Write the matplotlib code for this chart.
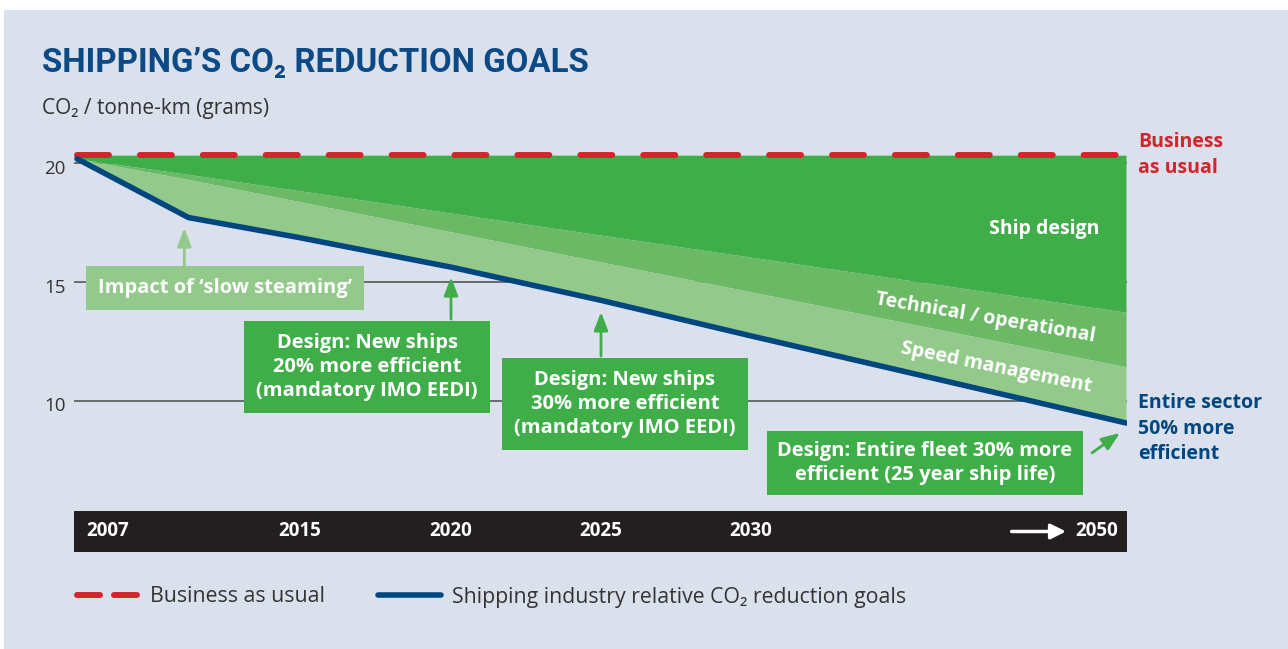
import numpy as np
import matplotlib
matplotlib.use("Agg")
import matplotlib.pyplot as plt
from matplotlib.patches import Rectangle
from matplotlib.lines import Line2D
from matplotlib.transforms import ScaledTranslation

plt.rcParams['font.family'] = ['Open Sans', 'DejaVu Sans']
plt.rcParams['lines.scale_dashes'] = False

# --- data (grams CO2 per tonne-km) ---
years = [2007, 2011, 2015, 2020, 2025, 2030, 2050]
business_as_usual = [20.35, 20.35, 20.35, 20.35, 20.35, 20.35, 20.35]
after_ship_design = [20.2, 19.54, 18.85, 17.91, 16.98, 16.05, 13.73]
after_technical = [20.2, 19.33, 18.39, 17.12, 15.85, 14.59, 11.43]
reduction_goal = [20.2, 17.72, 16.87, 15.63, 14.23, 12.73, 9.06]
y_ticks = [10, 15, 20]
timeline_years = [2007, 2015, 2020, 2025, 2030, 2050]
timeline_labels = ['2007', '2015', '2020', '2025', '2030', '2050']

# colours
bg = '#dae0ec'
red = '#d4252d'
navy = '#00467f'
dark_green = '#3fae49'
mid_green = '#6cb965'
light_green = '#93c98a'
grey_text = '#333333'

# the time axis is not linear: 2030 -> 2050 is squeezed
spacing = [0, 223, 374, 524, 674, 1049]
knot_years = [1900] + timeline_years + [2200]
knot_pos = [-2983] + spacing + [3862]


def fwd(x):
    return np.interp(x, knot_years, knot_pos)


def inv(p):
    return np.interp(p, knot_pos, knot_years)


W, H = 1288, 649


def fx(px):
    return px / W


def fy(py):
    return 1 - py / H


fig = plt.figure(figsize=(W / 100, H / 100), dpi=100, facecolor='white')
fig.patches.append(Rectangle((fx(4), 0), 1 - fx(4), fy(10), transform=fig.transFigure,
                             facecolor=bg, edgecolor='none', zorder=-10))

ax = fig.add_axes([fx(74), fy(510), fx(1127) - fx(74), (510 - 140) / H])
ax.set_facecolor('none')
ax.set_xscale('function', functions=(fwd, inv))
ax.set_xlim(inv(-3), inv(1050))
ax.set_ylim(5.39, 20.99)
for s in ax.spines.values():
    s.set_visible(False)
ax.set_xticks([])
ax.set_yticks(y_ticks)
ax.tick_params(axis='y', length=0, pad=6, labelsize=13.5, labelcolor=grey_text)
# labels sit a touch below their grid lines
for lab in ax.get_yticklabels():
    lab.set_transform(lab.get_transform() + ScaledTranslation(0, -2.5 / 72, fig.dpi_scale_trans))
ax.grid(axis='y', color='#4a4a4a', lw=1.1)
ax.set_axisbelow(True)

ax.fill_between(years, after_ship_design, business_as_usual, color=dark_green, lw=0, zorder=2)
ax.fill_between(years, after_technical, after_ship_design, color=mid_green, lw=0, zorder=2)
ax.fill_between(years, reduction_goal, after_technical, color=light_green, lw=0, zorder=2)
ax.plot(years, business_as_usual, color=red, lw=4.3, dashes=(23, 22.3),
        dash_capstyle='round', zorder=4)
ax.plot(years, reduction_goal, color=navy, lw=4, solid_capstyle='round',
        solid_joinstyle='round', zorder=4)

# band labels
band_kw = dict(color='white', weight='bold', fontsize=14, zorder=5)
ax.text(2048.56, 17.23, 'Ship design', ha='right', va='center', **band_kw)
ax.text(2042.5, 13.49, 'Technical / operational', ha='center', va='center',
        rotation=-9.7, rotation_mode='anchor', **band_kw)
ax.text(2043.1, 11.38, 'Speed management', ha='center', va='center',
        rotation=-11.5, rotation_mode='anchor', **band_kw)

# end labels
ax.annotate('Business\nas usual', xy=(years[-1], business_as_usual[-1]),
            xytext=(9, 0), textcoords='offset points', ha='left', va='center',
            color=red, weight='bold', fontsize=14, linespacing=1.42,
            annotation_clip=False)
ax.annotate('Entire sector\n50% more\nefficient', xy=(years[-1], reduction_goal[-1]),
            xytext=(9, -4), textcoords='offset points', ha='left', va='center',
            color=navy, weight='bold', fontsize=14, linespacing=1.38,
            annotation_clip=False)

# callout boxes and arrows
box_kw = dict(color='white', weight='bold', fontsize=14.5, ha='center', va='center',
              linespacing=1.25, zorder=6)
ax.text(2012.3, 14.75, 'Impact of ‘slow steaming’',
        bbox=dict(boxstyle='square,pad=0.6', fc=light_green, ec='none'), **box_kw)
ax.text(2017.22, 11.42, 'Design: New ships\n20% more efficient\n(mandatory IMO EEDI)',
        bbox=dict(boxstyle='square,pad=0.62', fc=dark_green, ec='none'), **box_kw)
ax.text(2025.8, 9.86, 'Design: New ships\n30% more efficient\n(mandatory IMO EEDI)',
        bbox=dict(boxstyle='square,pad=0.62', fc=dark_green, ec='none'), **box_kw)
ax.text(2039.28, 7.37, 'Design: Entire fleet 30% more\nefficient (25 year ship life)',
        bbox=dict(boxstyle='square,pad=0.5', fc=dark_green, ec='none'), **box_kw)

arrows = [
    ((2010.85, 15.68), (2010.85, 17.28), light_green),
    ((2020, 13.44), (2020, 15.21), dark_green),
    ((2025, 11.88), (2025, 13.74), dark_green),
    ((2048.19, 7.80), (2049.68, 8.64), dark_green),
]
for start, tip, c in arrows:
    ax.annotate('', xy=tip, xytext=start,
                arrowprops=dict(arrowstyle='-|>,head_length=1.1,head_width=0.42',
                                color=c, lw=2, shrinkA=0, shrinkB=0),
                annotation_clip=False, zorder=5)

# timeline bar
tl = fig.add_axes([fx(74), fy(552), fx(1127) - fx(74), 41 / H], sharex=ax)
tl.set_facecolor('#231f20')
tl.set_ylim(0, 1)
for s in tl.spines.values():
    s.set_visible(False)
tl.tick_params(left=False, bottom=False, labelleft=False, labelbottom=False)
for i, (yr, lab) in enumerate(zip(timeline_years, timeline_labels)):
    if i == 0:
        ha, dx = 'left', 6.5
    elif i == len(timeline_years) - 1:
        ha, dx = 'right', -6
    else:
        ha, dx = 'center', 0
    tl.annotate(lab, xy=(yr, 0.5), xycoords=('data', 'axes fraction'),
                xytext=(dx, 0), textcoords='offset points', ha=ha, va='center',
                color='white', weight='bold', fontsize=13.5)
tl.annotate('', xy=(2046.8, 0.5), xytext=(2043.9, 0.5),
            xycoords=('data', 'axes fraction'),
            arrowprops=dict(arrowstyle='-|>,head_length=0.9,head_width=0.45',
                            color='white', lw=2.5, shrinkA=0, shrinkB=0))

# titles
fig.text(fx(42), fy(72), 'SHIPPING’S CO₂ REDUCTION GOALS',
         family=['Roboto', 'DejaVu Sans'], weight='bold',
         fontsize=23.8, color='#0b4a85', va='baseline')
fig.text(fx(42), fy(114), 'CO₂ / tonne-km (grams)', fontsize=15, color=grey_text,
         va='baseline')

# legend
handles = [Line2D([], [], color=red, lw=4.3, dashes=(16.6, 10), dash_capstyle='round'),
           Line2D([], [], color=navy, lw=4, solid_capstyle='round')]
fig.legend(handles, ['Business as usual', 'Shipping industry relative CO₂ reduction goals'],
           loc='center left', bbox_to_anchor=(fx(77), fy(597)), ncol=2, frameon=False,
           fontsize=15.3, labelcolor=grey_text, borderpad=0, borderaxespad=0,
           handlelength=2.95, handletextpad=0.5, columnspacing=2.5)

fig.savefig('out.png', dpi=100, facecolor='white')
